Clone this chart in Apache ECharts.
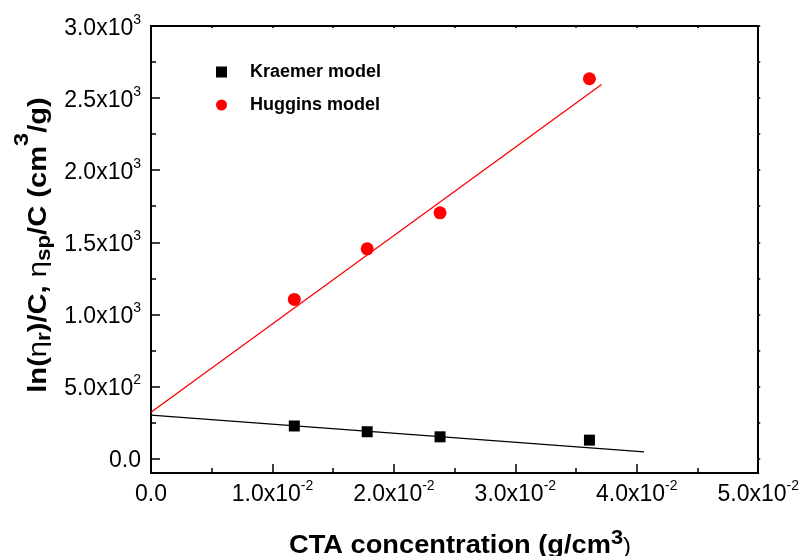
<!DOCTYPE html>
<html>
<head>
<meta charset="utf-8">
<script src="https://cdn.jsdelivr.net/npm/echarts@6/dist/echarts.min.js"></script>
<style>
  html, body { margin: 0; padding: 0; background: #fff; }
  #chart { width: 802px; height: 556px; }
</style>
</head>
<body>
<div id="chart"></div>
<script>
// CTA concentration (g/cm3) for each measured solution
var concentration = [0.0118, 0.0178, 0.0238, 0.0361];
// ln(eta_r)/C  (Kraemer) and eta_sp/C (Huggins), cm3/g
var kraemer = [226, 186, 151, 128];
var huggins = [1104, 1455, 1704, 2634];
// straight-line fits, given by their two end points
var kraemerFitX = [0, 0.0406];
var kraemerFitY = [302, 47];
var hugginsFitX = [0, 0.0371];
var hugginsFitY = [321, 2594];

// axis ticks and their labels ("^" marks the exponent)
var xTicks = [0, 0.01, 0.02, 0.03, 0.04, 0.05];
var xTickLabels = ['0.0', '1.0x10^-2', '2.0x10^-2', '3.0x10^-2', '4.0x10^-2', '5.0x10^-2'];
var yTicks = [0, 500, 1000, 1500, 2000, 2500, 3000];
var yTickLabels = ['0.0', '5.0x10^2', '1.0x10^3', '1.5x10^3', '2.0x10^3', '2.5x10^3', '3.0x10^3'];
var yMinorTicks = [250, 750, 1250, 1750, 2250, 2750];

var FONT = '"Liberation Sans", Arial, sans-serif';

function pairs(xs, ys) {
  return xs.map(function (x, i) { return [x, ys[i]]; });
}
function richLabel(s) {
  var parts = s.split('^');
  return parts.length > 1 ? '{a|' + parts[0] + '}{s|' + parts[1] + '}' : '{a|' + parts[0] + '}';
}
function labelFor(ticks, labels, v) {
  var best = 0;
  for (var i = 1; i < ticks.length; i++) {
    if (Math.abs(ticks[i] - v) < Math.abs(ticks[best] - v)) best = i;
  }
  return richLabel(labels[best]);
}
// mantissa and raised exponent of the tick labels
var tickRich = {
  a: { fontFamily: FONT, fontSize: 23, lineHeight: 32, verticalAlign: 'top', padding: [7, 0, 0, 0], color: '#000' },
  s: { fontFamily: FONT, fontSize: 14, verticalAlign: 'top', padding: [3, 0, 0, 0], color: '#000' }
};
var AX = { onZero: false, lineStyle: { color: '#000', width: 2 } };
var TICK = { color: '#000', width: 1.5 };

var chart = echarts.init(document.getElementById('chart'), null, { renderer: 'canvas' });
chart.setOption({
  animation: false,
  backgroundColor: '#fff',
  grid: { left: 151, right: 42, top: 26, bottom: 83, containLabel: false },
  xAxis: [
    {
      type: 'value', min: 0, max: 0.05, interval: 0.01, position: 'bottom',
      axisLine: AX,
      axisTick: { inside: true, length: 9, lineStyle: TICK },
      minorTick: { show: true, splitNumber: 2, length: 5, lineStyle: TICK },
      splitLine: { show: false }, minorSplitLine: { show: false },
      axisLabel: {
        margin: 3, rich: tickRich,
        formatter: function (v) { return labelFor(xTicks, xTickLabels, v); }
      }
    },
    {
      type: 'value', min: 0, max: 0.05, interval: 0.005, position: 'top',
      axisLine: AX,
      axisTick: { inside: true, length: 2, lineStyle: TICK },
      splitLine: { show: false }, axisLabel: { show: false }
    }
  ],
  yAxis: [
    {
      type: 'value', min: -100, max: 3000, position: 'left',
      axisLine: AX,
      axisTick: { inside: true, length: 9, customValues: yTicks, lineStyle: TICK },
      splitLine: { show: false },
      axisLabel: {
        margin: 10, rich: tickRich, customValues: yTicks,
        formatter: function (v) { return labelFor(yTicks, yTickLabels, v); }
      }
    },
    {
      type: 'value', min: -100, max: 3000, position: 'left',
      axisLine: { show: false, onZero: false },
      axisTick: { inside: true, length: 5, customValues: yMinorTicks, lineStyle: TICK },
      splitLine: { show: false }, axisLabel: { show: false }
    },
    {
      type: 'value', min: -100, max: 3000, position: 'right',
      axisLine: AX,
      axisTick: { inside: false, length: 2, customValues: yTicks.concat(yMinorTicks), lineStyle: TICK },
      splitLine: { show: false }, axisLabel: { show: false }
    }
  ],
  legend: {
    data: ['Kraemer model', 'Huggins model'],
    orient: 'vertical', left: 216, top: 62, padding: 0,
    itemWidth: 11, itemHeight: 11, itemGap: 13,
    itemStyle: { opacity: 1 },
    textStyle: { fontFamily: FONT, fontSize: 18, fontWeight: 'bold', color: '#000', lineHeight: 20, padding: [0, 0, 0, 18] }
  },
  series: [
    {
      name: 'Kraemer fit', type: 'line', data: pairs(kraemerFitX, kraemerFitY),
      showSymbol: false, symbol: 'none', silent: true, z: 2,
      lineStyle: { color: '#000', width: 1.3 }
    },
    {
      name: 'Huggins fit', type: 'line', data: pairs(hugginsFitX, hugginsFitY),
      showSymbol: false, symbol: 'none', silent: true, z: 2,
      lineStyle: { color: '#ff0000', width: 1.3 }
    },
    {
      name: 'Kraemer model', type: 'scatter', symbol: 'rect', symbolSize: 11, z: 3,
      itemStyle: { color: '#000', opacity: 1 }, data: pairs(concentration, kraemer)
    },
    {
      name: 'Huggins model', type: 'scatter', symbol: 'circle', symbolSize: 13, z: 3,
      itemStyle: { color: '#ff0000', opacity: 1 }, data: pairs(concentration, huggins)
    }
  ],
  graphic: [
    {
      // x-axis title
      type: 'text', x: 289, y: 524, scaleX: 1.09, silent: true,
      style: {
        x: 0, y: 0, align: 'left', verticalAlign: 'top',
        text: '{b|CTA concentration (g/cm}{p|3}{c|)}',
        rich: {
          b: { fontFamily: FONT, fontSize: 25, fontWeight: 'bold', verticalAlign: 'top', padding: [10, 0, 0, 0], fill: '#000' },
          p: { fontFamily: FONT, fontSize: 20, fontWeight: 'bold', verticalAlign: 'top', padding: [4, 0, 0, 0], fill: '#000' },
          c: { fontFamily: FONT, fontSize: 22, verticalAlign: 'top', padding: [12, 0, 0, 0], fill: '#000' }
        }
      }
    },
    {
      // y-axis title, reading bottom to top
      type: 'text', x: 32, y: 245, rotation: Math.PI / 2, scaleX: 1.12, silent: true,
      style: {
        x: 0, y: 0, align: 'center', verticalAlign: 'middle',
        text: '{b|ln(}{g|\u03b7}{u|r}{b|)/C, }{g|\u03b7}{u|sp}{b|/C (cm}{p|3}{b|/g)}',
        rich: {
          b: { fontFamily: FONT, fontSize: 26, fontWeight: 'bold', verticalAlign: 'top', padding: [16, 0, 0, 0], fill: '#000' },
          g: { fontFamily: FONT, fontSize: 26, verticalAlign: 'top', padding: [16, 0, 0, 0], fill: '#000' },
          u: { fontFamily: FONT, fontSize: 20, fontWeight: 'bold', verticalAlign: 'top', padding: [24, 0, 0, 0], fill: '#000' },
          p: { fontFamily: FONT, fontSize: 21, fontWeight: 'bold', verticalAlign: 'top', padding: [2, 0, 0, 0], fill: '#000' }
        }
      }
    }
  ]
});
</script>
</body>
</html>
